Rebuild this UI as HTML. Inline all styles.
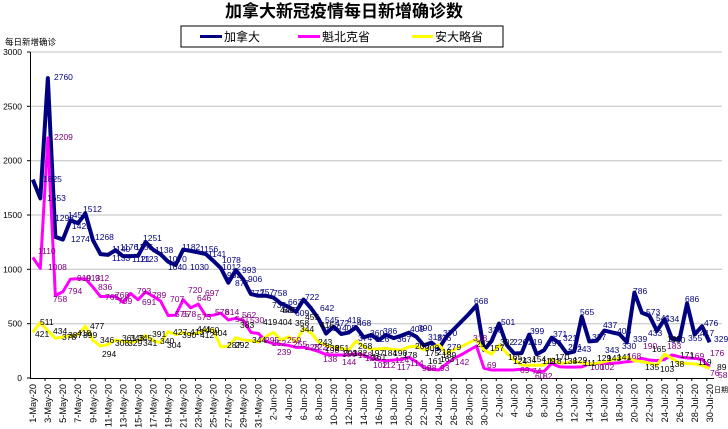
<!DOCTYPE html>
<html><head><meta charset="utf-8"><style>
html,body{margin:0;padding:0;background:#fff;}
svg{display:block;}
text{font-family:"Liberation Sans","Noto Sans CJK SC",sans-serif;}
.dl{font-size:8.5px;}
</style></head><body>
<svg width="728" height="429" viewBox="0 0 728 429" xmlns="http://www.w3.org/2000/svg">
<rect width="728" height="429" fill="#fff"/>
<text x="344" y="17" text-anchor="middle" font-size="17" font-weight="bold" font-family="'Liberation Sans','Noto Sans CJK SC',sans-serif">加拿大新冠疫情每日新增确诊数</text>
<rect x="181" y="26" width="322" height="21" fill="#fff" stroke="#000" stroke-width="1"/>
<line x1="200" y1="36.5" x2="222" y2="36.5" stroke="#000080" stroke-width="3"/>
<text x="224" y="41" font-size="12">加拿大</text>
<line x1="298" y1="36.5" x2="320" y2="36.5" stroke="#FF00FF" stroke-width="3"/>
<text x="322" y="41" font-size="12">魁北克省</text>
<line x1="412" y1="36.5" x2="433" y2="36.5" stroke="#FFFF00" stroke-width="3"/>
<text x="435" y="41" font-size="12">安大略省</text>
<text x="5" y="45" font-size="8.5">每日新增确诊</text>
<g stroke="#C0C0C0" stroke-width="1">
<line x1="30" y1="52" x2="722" y2="52"/>
<line x1="30" y1="106.3" x2="722" y2="106.3"/>
<line x1="30" y1="160.7" x2="722" y2="160.7"/>
<line x1="30" y1="215" x2="722" y2="215"/>
<line x1="30" y1="269.3" x2="722" y2="269.3"/>
<line x1="30" y1="323.7" x2="722" y2="323.7"/>
</g>
<g font-size="8.5" text-anchor="end">
<text x="22" y="55">3000</text>
<text x="22" y="109.3">2500</text>
<text x="22" y="163.7">2000</text>
<text x="22" y="218">1500</text>
<text x="22" y="272.3">1000</text>
<text x="22" y="326.7">500</text>
<text x="22" y="381">0</text>
</g>
<g stroke="#000" stroke-width="1">
<line x1="30.5" y1="52" x2="30.5" y2="378"/>
<line x1="30" y1="378.5" x2="714" y2="378.5"/>
<line x1="27" y1="52" x2="30" y2="52"/><line x1="27" y1="106.3" x2="30" y2="106.3"/><line x1="27" y1="160.7" x2="30" y2="160.7"/><line x1="27" y1="215" x2="30" y2="215"/><line x1="27" y1="269.3" x2="30" y2="269.3"/><line x1="27" y1="323.7" x2="30" y2="323.7"/><line x1="27" y1="378" x2="30" y2="378"/>
</g>
<g stroke="#000" stroke-width="1">
<path d="M45.04 378v3M60.08 378v3M75.12 378v3M90.16 378v3M105.2 378v3M120.24 378v3M135.28 378v3M150.32 378v3M165.36 378v3M180.4 378v3M195.44 378v3M210.48 378v3M225.52 378v3M240.56 378v3M255.6 378v3M270.64 378v3M285.68 378v3M300.72 378v3M315.76 378v3M330.8 378v3M345.84 378v3M360.88 378v3M375.92 378v3M390.96 378v3M406 378v3M421.04 378v3M436.08 378v3M451.12 378v3M466.16 378v3M481.2 378v3M496.24 378v3M511.28 378v3M526.32 378v3M541.36 378v3M556.4 378v3M571.44 378v3M586.48 378v3M601.52 378v3M616.56 378v3M631.6 378v3M646.64 378v3M661.68 378v3M676.72 378v3M691.76 378v3M706.8 378v3"/>
</g>
<g transform="translate(32.8 378) scale(7.52 -0.10867)" fill="none" stroke-linejoin="round">
<polyline vector-effect="non-scaling-stroke" stroke="#000080" stroke-width="4" points="0,1825 1,1653 2,2760 3,1298 4,1274 5,1450 6,1425 7,1512 8,1268 9,1140 10,1133 11,1176 12,1121 13,1121 14,1125 15,1251 16,1180 17,1138 18,1070 19,1040 20,1182 21,1170 22,1156 23,1141 24,1078 25,1012 26,877 27,993 28,906 29,772 30,757 31,758 32,740 33,685 34,656 35,609 36,722 37,642 38,545 39,409 40,472 41,405 42,418 43,468 44,374 45,396 46,350 47,396 48,367 49,390 50,417 51,380 52,300 53,326 54,270 55,380 56,450 57,520 58,590 59,668 60,257 61,340 62,501 63,306 64,226 65,229 66,399 67,219 68,257 69,371 70,321 71,227 72,243 73,565 74,337 75,343 76,437 77,420 78,405 79,330 80,786 81,600 82,573 83,433 84,541 85,360 86,355 87,686 88,400 89,476 90,329"/>
<polyline vector-effect="non-scaling-stroke" stroke="#FF00FF" stroke-width="3" points="0,1110 1,1008 2,2209 3,758 4,794 5,910 6,913 7,912 8,836 9,750 10,750 11,750 12,696 13,778 14,720 15,793 16,752 17,707 18,575 19,578 20,720 21,646 22,680 23,573 24,578 25,597 26,534 27,549 28,530 29,420 30,410 31,340 32,315 33,310 34,300 35,282 36,282 37,265 38,245 39,215 40,212 41,212 42,214 43,222 44,210 45,180 46,166 47,160 48,165 49,170 50,190 51,150 52,95 53,80 54,74 55,130 56,180 57,215 58,255 59,294 60,89 61,74 62,74 63,74 64,75 65,80 66,79 67,58 68,62 69,135 70,104 71,100 72,100 73,102 74,130 75,135 76,135 77,135 78,140 79,150 80,158 81,181 82,165 83,160 84,170 85,212 86,195 87,185 88,180 89,172 90,100"/>
<polyline vector-effect="non-scaling-stroke" stroke="#FFFF00" stroke-width="3" points="0,421 1,511 2,434 3,365 4,378 5,387 6,399 7,477 8,346 9,294 10,308 11,350 12,336 13,330 14,340 15,391 16,345 17,325 18,427 19,400 20,417 21,402 22,417 23,441 24,440 25,287 26,292 27,370 28,350 29,344 30,330 31,380 32,420 33,350 34,380 35,334 36,455 37,415 38,330 39,300 40,285 41,273 42,258 43,340 44,288 45,264 46,268 47,273 48,262 49,258 50,285 51,294 52,258 53,280 54,304 55,227 56,260 57,290 58,325 59,356 60,258 61,220 62,304 63,230 64,166 65,120 66,116 67,118 68,120 69,172 70,135 71,140 72,150 73,140 74,129 75,135 76,150 77,165 78,181 79,190 80,160 81,150 82,135 83,120 84,220 85,180 86,140 87,133 88,130 89,115 90,89"/>
</g>
<g class="dl" fill="#000080">
<text x="54" y="80">2760</text><text x="43" y="182">1825</text><text x="47" y="201">1653</text><text x="55" y="221">1298</text><text x="68" y="218">1450</text><text x="72" y="229">1425</text><text x="83" y="212">1512</text><text x="71" y="242">1274</text><text x="95" y="240">1268</text><text x="112" y="252">1140</text><text x="112" y="261">1133</text><text x="120" y="250">1176</text><text x="132" y="262">1121</text><text x="135" y="250">1155</text><text x="140" y="262">1123</text><text x="143" y="241">1251</text><text x="155" y="253">1138</text><text x="168" y="262">1070</text><text x="168" y="270">1040</text><text x="182" y="250">1182</text><text x="190" y="270">1030</text><text x="200" y="252">1156</text><text x="208" y="257">1141</text><text x="222" y="263">1078</text><text x="222" y="270">1012</text><text x="227" y="278">962</text><text x="235" y="286">877</text><text x="242" y="273">993</text><text x="248" y="282">906</text><text x="250" y="296">772</text><text x="260" y="295">757</text><text x="273" y="296">758</text><text x="272" y="308">735</text><text x="283" y="313">685</text><text x="288" y="305">663</text><text x="295" y="316">609</text><text x="305" y="300">722</text><text x="320" y="311">642</text><text x="325" y="323">545</text><text x="327" y="331">409</text><text x="335" y="326">472</text><text x="342" y="331">405</text><text x="347" y="323">418</text><text x="357" y="326">468</text><text x="358" y="341">374</text><text x="370" y="336">360</text><text x="375" y="342">326</text><text x="383" y="334">386</text><text x="397" y="342">367</text><text x="410" y="332">409</text><text x="418" y="331">390</text><text x="428" y="340">318</text><text x="425" y="351">300</text><text x="437" y="341">326</text><text x="443" y="336">370</text><text x="447" y="350">279</text><text x="474" y="304">668</text><text x="488" y="333">316</text><text x="501" y="325">501</text><text x="513" y="345">226</text><text x="530" y="334">399</text><text x="528" y="345">219</text><text x="553" y="337">371</text><text x="547" y="346">297</text><text x="563" y="341">321</text><text x="568" y="350">231</text><text x="577" y="352">243</text><text x="580" y="315">565</text><text x="592" y="340">337</text><text x="603" y="328">437</text><text x="605" y="353">343</text><text x="617" y="334">405</text><text x="622" y="349">330</text><text x="633" y="294">786</text><text x="633" y="342">339</text><text x="646" y="315">573</text><text x="656" y="321">541</text><text x="648" y="336">433</text><text x="665" y="322">534</text><text x="671" y="343">360</text><text x="685" y="302">686</text><text x="688" y="341">355</text><text x="700" y="336">417</text><text x="704" y="326">476</text><text x="714" y="342">329</text>
</g>
<g class="dl" fill="#800080">
<text x="54" y="140">2209</text><text x="38" y="254">1110</text><text x="48" y="270">1008</text><text x="53" y="302">758</text><text x="68" y="294">794</text><text x="77" y="281">919</text><text x="86" y="281">913</text><text x="95" y="281">912</text><text x="98" y="290">836</text><text x="105" y="300">765</text><text x="115" y="298">768</text><text x="118" y="304">709</text><text x="137" y="294">793</text><text x="142" y="305">691</text><text x="152" y="298">789</text><text x="170" y="302">707</text><text x="175" y="317">575</text><text x="182" y="317">578</text><text x="188" y="293">720</text><text x="197" y="301">646</text><text x="205" y="296">697</text><text x="197" y="320">573</text><text x="215" y="315">578</text><text x="225" y="315">614</text><text x="235" y="322">541</text><text x="242" y="318">562</text><text x="250" y="323">530</text><text x="265" y="343">295</text><text x="272" y="346">252</text><text x="277" y="355">239</text><text x="287" y="343">259</text><text x="293" y="347">255</text><text x="305" y="350">228</text><text x="313" y="350">222</text><text x="325" y="353">198</text><text x="323" y="362">138</text><text x="342" y="357">156</text><text x="342" y="365">144</text><text x="358" y="358">158</text><text x="365" y="361">128</text><text x="373" y="368">102</text><text x="382" y="368">112</text><text x="395" y="363">124</text><text x="397" y="370">117</text><text x="410" y="366">114</text><text x="422" y="371">99</text><text x="427" y="371">88</text><text x="440" y="371">93</text><text x="455" y="365">142</text><text x="473" y="341">318</text><text x="487" y="368">69</text><text x="520" y="373">69</text><text x="532" y="374">74</text><text x="535" y="379">60</text><text x="543" y="379">82</text><text x="590" y="370">100</text><text x="600" y="370">102</text><text x="627" y="359">168</text><text x="643" y="349">190</text><text x="667" y="349">183</text><text x="690" y="359">169</text><text x="710" y="356">176</text><text x="718" y="378">58</text><text x="710" y="376">76</text>
</g>
<g class="dl" fill="#000">
<text x="35" y="337">421</text><text x="40" y="325">511</text><text x="53" y="334">434</text><text x="62" y="340">378</text><text x="68" y="338">387</text><text x="77" y="336">418</text><text x="83" y="338">399</text><text x="90" y="329">477</text><text x="100" y="343">346</text><text x="102" y="357">294</text><text x="115" y="346">308</text><text x="122" y="341">361</text><text x="130" y="341">343</text><text x="138" y="341">345</text><text x="128" y="346">329</text><text x="143" y="346">341</text><text x="152" y="337">391</text><text x="160" y="344">340</text><text x="167" y="348">304</text><text x="173" y="335">427</text><text x="182" y="338">390</text><text x="190" y="335">413</text><text x="197" y="332">441</text><text x="200" y="338">412</text><text x="205" y="333">460</text><text x="213" y="336">404</text><text x="227" y="348">287</text><text x="235" y="348">292</text><text x="240" y="328">383</text><text x="252" y="343">344</text><text x="263" y="325">419</text><text x="278" y="325">404</text><text x="280" y="313">446</text><text x="295" y="326">358</text><text x="300" y="332">344</text><text x="305" y="320">455</text><text x="320" y="328">415</text><text x="318" y="345">243</text><text x="325" y="351">238</text><text x="335" y="351">251</text><text x="343" y="356">203</text><text x="353" y="356">182</text><text x="358" y="349">268</text><text x="370" y="356">197</text><text x="372" y="360">161</text><text x="383" y="356">184</text><text x="393" y="356">190</text><text x="403" y="358">178</text><text x="415" y="349">206</text><text x="425" y="356">175</text><text x="428" y="364">161</text><text x="437" y="355">218</text><text x="442" y="358">189</text><text x="440" y="362">163</text><text x="476" y="347">257</text><text x="490" y="351">157</text><text x="500" y="345">302</text><text x="508" y="360">165</text><text x="513" y="364">124</text><text x="522" y="363">134</text><text x="532" y="362">154</text><text x="542" y="364">119</text><text x="548" y="364">118</text><text x="555" y="360">170</text><text x="563" y="364">138</text><text x="573" y="363">129</text><text x="583" y="366">111</text><text x="597" y="361">129</text><text x="607" y="361">143</text><text x="617" y="360">141</text><text x="652" y="352">165</text><text x="645" y="370">135</text><text x="667" y="342">195</text><text x="660" y="372">103</text><text x="670" y="367">138</text><text x="680" y="358">171</text><text x="698" y="365">119</text><text x="717" y="370">89</text>
</g>
<g font-size="9.2" text-anchor="end" fill="#000">
<text x="36.1" y="384" transform="rotate(-90 36.1 384)">1-May-20</text>
<text x="51.1" y="384" transform="rotate(-90 51.1 384)">3-May-20</text>
<text x="66.2" y="384" transform="rotate(-90 66.2 384)">5-May-20</text>
<text x="81.2" y="384" transform="rotate(-90 81.2 384)">7-May-20</text>
<text x="96.3" y="384" transform="rotate(-90 96.3 384)">9-May-20</text>
<text x="111.3" y="384" transform="rotate(-90 111.3 384)">11-May-20</text>
<text x="126.3" y="384" transform="rotate(-90 126.3 384)">13-May-20</text>
<text x="141.4" y="384" transform="rotate(-90 141.4 384)">15-May-20</text>
<text x="156.4" y="384" transform="rotate(-90 156.4 384)">17-May-20</text>
<text x="171.5" y="384" transform="rotate(-90 171.5 384)">19-May-20</text>
<text x="186.5" y="384" transform="rotate(-90 186.5 384)">21-May-20</text>
<text x="201.5" y="384" transform="rotate(-90 201.5 384)">23-May-20</text>
<text x="216.6" y="384" transform="rotate(-90 216.6 384)">25-May-20</text>
<text x="231.6" y="384" transform="rotate(-90 231.6 384)">27-May-20</text>
<text x="246.7" y="384" transform="rotate(-90 246.7 384)">29-May-20</text>
<text x="261.7" y="384" transform="rotate(-90 261.7 384)">31-May-20</text>
<text x="276.7" y="384" transform="rotate(-90 276.7 384)">2-Jun-20</text>
<text x="291.8" y="384" transform="rotate(-90 291.8 384)">4-Jun-20</text>
<text x="306.8" y="384" transform="rotate(-90 306.8 384)">6-Jun-20</text>
<text x="321.9" y="384" transform="rotate(-90 321.9 384)">8-Jun-20</text>
<text x="336.9" y="384" transform="rotate(-90 336.9 384)">10-Jun-20</text>
<text x="351.9" y="384" transform="rotate(-90 351.9 384)">12-Jun-20</text>
<text x="367" y="384" transform="rotate(-90 367 384)">14-Jun-20</text>
<text x="382" y="384" transform="rotate(-90 382 384)">16-Jun-20</text>
<text x="397.1" y="384" transform="rotate(-90 397.1 384)">18-Jun-20</text>
<text x="412.1" y="384" transform="rotate(-90 412.1 384)">20-Jun-20</text>
<text x="427.1" y="384" transform="rotate(-90 427.1 384)">22-Jun-20</text>
<text x="442.2" y="384" transform="rotate(-90 442.2 384)">24-Jun-20</text>
<text x="457.2" y="384" transform="rotate(-90 457.2 384)">26-Jun-20</text>
<text x="472.3" y="384" transform="rotate(-90 472.3 384)">28-Jun-20</text>
<text x="487.3" y="384" transform="rotate(-90 487.3 384)">30-Jun-20</text>
<text x="502.3" y="384" transform="rotate(-90 502.3 384)">2-Jul-20</text>
<text x="517.4" y="384" transform="rotate(-90 517.4 384)">4-Jul-20</text>
<text x="532.4" y="384" transform="rotate(-90 532.4 384)">6-Jul-20</text>
<text x="547.5" y="384" transform="rotate(-90 547.5 384)">8-Jul-20</text>
<text x="562.5" y="384" transform="rotate(-90 562.5 384)">10-Jul-20</text>
<text x="577.5" y="384" transform="rotate(-90 577.5 384)">12-Jul-20</text>
<text x="592.6" y="384" transform="rotate(-90 592.6 384)">14-Jul-20</text>
<text x="607.6" y="384" transform="rotate(-90 607.6 384)">16-Jul-20</text>
<text x="622.7" y="384" transform="rotate(-90 622.7 384)">18-Jul-20</text>
<text x="637.7" y="384" transform="rotate(-90 637.7 384)">20-Jul-20</text>
<text x="652.7" y="384" transform="rotate(-90 652.7 384)">22-Jul-20</text>
<text x="667.8" y="384" transform="rotate(-90 667.8 384)">24-Jul-20</text>
<text x="682.8" y="384" transform="rotate(-90 682.8 384)">26-Jul-20</text>
<text x="697.9" y="384" transform="rotate(-90 697.9 384)">28-Jul-20</text>
<text x="712.9" y="384" transform="rotate(-90 712.9 384)">30-Jul-20</text>
</g>
<text x="714" y="392" font-size="7">日期</text>
</svg>
</body></html>
